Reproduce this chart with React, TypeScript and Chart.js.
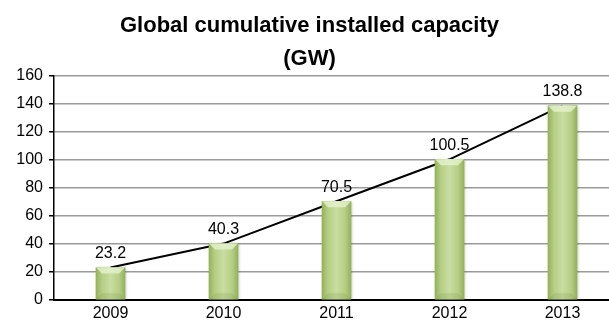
import React, { useEffect, useRef } from "react";
import { Chart, registerables } from "chart.js";

Chart.register(...registerables);

const years = ["2009", "2010", "2011", "2012", "2013"];
const capacityGW = [23.2, 40.3, 70.5, 100.5, 138.8];
const yTicks = [0, 20, 40, 60, 80, 100, 120, 140, 160];
const titleLines = ["Global cumulative installed capacity", "(GW)"];

const FONT = '"Liberation Sans", Arial, Helvetica, sans-serif';
const BAR_W = 29;

// Value labels above each bar, taken from the bar data itself
const valueLabels = {
  id: "valueLabels",
  afterDatasetsDraw(chart: any) {
    const meta = chart.getDatasetMeta(0);
    const ctx = chart.ctx;
    ctx.save();
    ctx.font = `16px ${FONT}`;
    ctx.fillStyle = "#000";
    ctx.textAlign = "center";
    ctx.textBaseline = "middle";
    meta.data.forEach((el: any, i: number) => {
      ctx.fillText(String(capacityGW[i]), el.x, el.y - 14);
    });
    ctx.restore();
  },
};

// Soft shadow under the bars and a bevelled highlight on their tops
const barBevel = {
  id: "barBevel",
  beforeDatasetDraw(chart: any, args: any) {
    if (args.index !== 0) return;
    const ctx = chart.ctx;
    ctx.save();
    ctx.shadowColor = "rgba(0,0,0,0.3)";
    ctx.shadowBlur = 3;
    ctx.shadowOffsetX = 1;
    ctx.shadowOffsetY = 1;
  },
  afterDatasetDraw(chart: any, args: any) {
    if (args.index !== 0) return;
    const ctx = chart.ctx;
    ctx.restore();
    ctx.save();
    const meta = chart.getDatasetMeta(0);
    meta.data.forEach((el: any) => {
      const l = el.x - el.width / 2;
      const r = el.x + el.width / 2;
      const t = el.y;
      const b = el.base;
      const bev = Math.min(6, (b - t) / 3);
      // top facet
      ctx.beginPath();
      ctx.moveTo(l, t);
      ctx.lineTo(r, t);
      ctx.lineTo(r - bev, t + bev);
      ctx.lineTo(l + bev, t + bev);
      ctx.closePath();
      ctx.fillStyle = "rgba(230,242,205,0.8)";
      ctx.fill();
      // bottom facet
      ctx.beginPath();
      ctx.moveTo(l, b);
      ctx.lineTo(r, b);
      ctx.lineTo(r - bev, b - bev);
      ctx.lineTo(l + bev, b - bev);
      ctx.closePath();
      ctx.fillStyle = "rgba(110,140,60,0.18)";
      ctx.fill();
    });
    ctx.restore();
  },
};

export default function App() {
  const ref = useRef<HTMLCanvasElement | null>(null);

  useEffect(() => {
    if (!ref.current) return;
    const chart = new Chart(ref.current, {
      type: "bar",
      data: {
        labels: years,
        datasets: [
          {
            type: "bar",
            data: capacityGW,
            order: 1,
            barThickness: BAR_W,
            borderWidth: 0,
            backgroundColor: (c: any) => {
              const ch = c.chart;
              const xs = ch.scales && ch.scales.x;
              if (!xs || c.dataIndex === undefined) return "#a9c46f";
              const cx = xs.getPixelForValue(c.dataIndex);
              if (!isFinite(cx)) return "#a9c46f";
              const g = ch.ctx.createLinearGradient(cx - BAR_W / 2, 0, cx + BAR_W / 2, 0);
              g.addColorStop(0, "#93b25a");
              g.addColorStop(0.2, "#b5ce84");
              g.addColorStop(0.5, "#c8dda2");
              g.addColorStop(0.8, "#b5ce84");
              g.addColorStop(1, "#93b25a");
              return g;
            },
          },
          {
            type: "line",
            data: capacityGW,
            order: 2,
            borderColor: "#000",
            borderWidth: 2,
            pointRadius: 0,
            tension: 0,
            fill: false,
          } as any,
        ],
      },
      options: {
        responsive: false,
        animation: false,
        layout: { padding: { left: 0, right: 1, top: 0, bottom: 0 } },
        plugins: {
          legend: { display: false },
          tooltip: { enabled: false },
          title: {
            display: true,
            text: titleLines,
            color: "#000",
            font: { family: FONT, size: 22, weight: "bold", lineHeight: 1.5 },
            padding: { top: 9, bottom: 1 },
          },
        },
        scales: {
          x: {
            offset: true,
            grid: { display: false, drawTicks: false },
            border: { display: true, color: "#000", width: 2 },
            afterFit: (s: any) => {
              s.height = 24;
            },
            ticks: {
              color: "#000",
              font: { family: FONT, size: 16 },
              padding: 4,
              maxRotation: 0,
            },
          },
          y: {
            min: 0,
            max: 160,
            afterBuildTicks: (s: any) => {
              s.ticks = yTicks.map((v) => ({ value: v }));
            },
            afterFit: (s: any) => {
              s.width = 54;
            },
            grid: {
              color: "#9a9a9a",
              lineWidth: 1.5,
              tickColor: "#000",
              tickLength: 5,
              tickWidth: 1.5,
            },
            border: { display: true, color: "#000", width: 1.5 },
            ticks: {
              color: "#000",
              font: { family: FONT, size: 16 },
              padding: 6,
            },
          },
        },
      },
      plugins: [valueLabels, barBevel],
    });
    return () => chart.destroy();
  }, []);

  return (
    <div
      style={{
        position: "fixed",
        left: 0,
        top: 0,
        width: 609,
        height: 324,
        overflow: "hidden",
        background: "#fff",
      }}
    >
      <canvas ref={ref} width={620} height={324} style={{ display: "block" }} />
    </div>
  );
}
